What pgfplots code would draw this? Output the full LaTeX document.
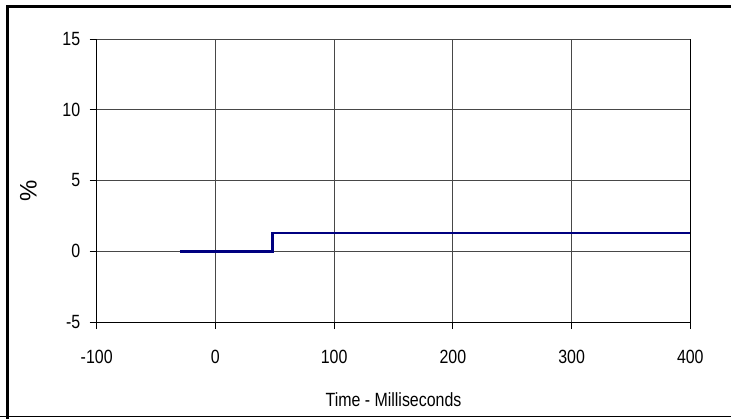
\documentclass[border=0pt]{standalone}
\usepackage{fontspec}
\setmainfont{Liberation Sans}
\usepackage{pgfplots}
\pgfplotsset{compat=1.18}
\definecolor{navyline}{RGB}{0,0,128}
\begin{document}
\fontsize{16}{19}\selectfont
\begin{tikzpicture}[x=1bp,y=1bp]
\useasboundingbox (0,0) rectangle (731,418);
\draw[line width=3bp] (7.5,-5) -- (7.5,411.5) -- (740,411.5);
\draw[line width=1.8bp] (0,1.5) -- (740,1.5);
\begin{axis}[
  at={(96.7bp,96bp)}, anchor=south west,
  scale only axis, width=593.6bp, height=283bp,
  xmin=-100, xmax=400, ymin=-5, ymax=15,
  xtick={-100,0,...,400}, ytick={-5,0,...,15},
  axis x line*=bottom, axis y line*=left,
  axis line style={black, line width=0.9bp},
  tick style={black, line width=0.9bp},
  tick align=outside, major tick length=7bp,
  grid=major, major grid style={black!72, line width=0.8bp},
  /pgf/number format/assume math mode=true,
  ticklabel style={font=\fontsize{16}{19}\selectfont, yscale=1.2},
  xticklabel style={yshift=-12bp},
  yticklabel style={xshift=-4bp},
  xlabel={Time - Milliseconds},
  ylabel={\%},
  xlabel style={at={(axis description cs:0.5,-0.276)}, anchor=center, font=\fontsize{16}{19}\selectfont, yscale=1.2},
  ylabel style={at={(axis description cs:-0.115,0.463)}, anchor=center, rotate=0, font=\fontsize{24}{28}\selectfont},
  clip=false,
]
\draw[black!72, line width=0.8bp] (axis cs:-100,15) -- (axis cs:400,15);
\draw[black, line width=0.9bp] (axis cs:400,-5) -- (axis cs:400,15);
\addplot[navyline, line width=2.6bp, mark=none] coordinates {
(-30,0) (48,0) (48,1.3) (400,1.3)
};
\end{axis}
\end{tikzpicture}
\end{document}
